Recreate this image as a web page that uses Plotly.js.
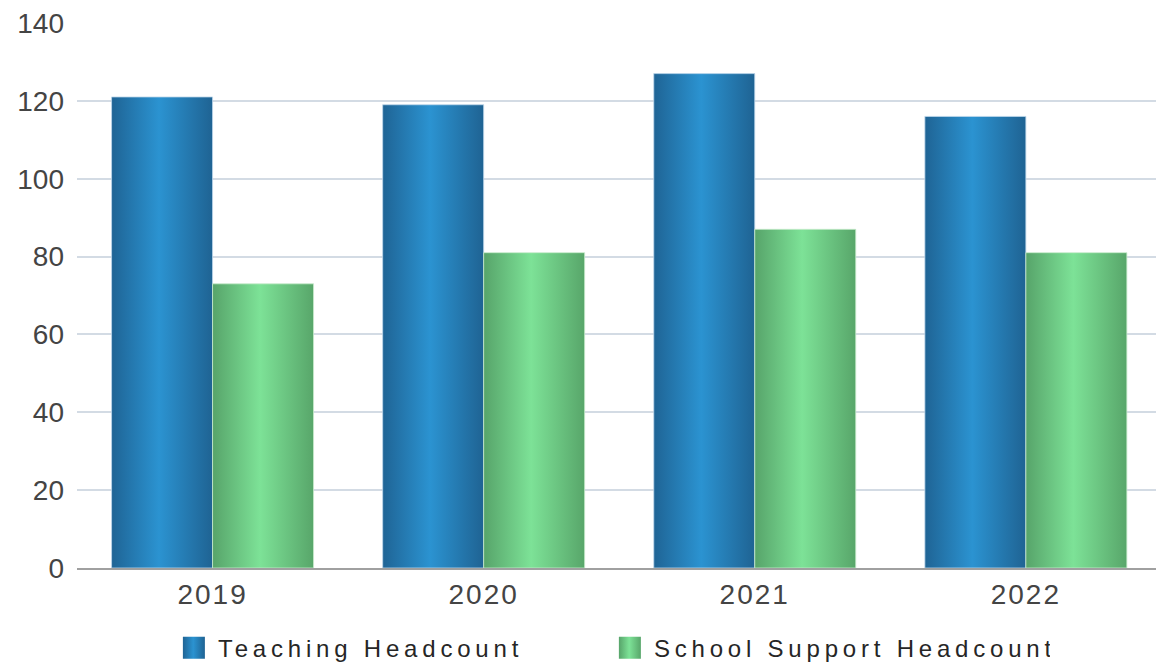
<!DOCTYPE html>
<html><head><meta charset="utf-8">
<script src="https://cdn.plot.ly/plotly-3.0.1.min.js"></script>
<style>
html,body{margin:0;padding:0;background:#fff;overflow:hidden;width:1156px;height:662px}
#chart{width:1156px;height:674px}
.legendtext{letter-spacing:4.8px}
.xtick text{letter-spacing:2px}
</style></head><body><div id="chart"></div>
<script>
const years = ['2019', '2020', '2021', '2022'];
const teaching = [121, 119, 127, 116];
const support = [73, 81, 87, 81];
const seriesNames = ['Teaching Headcount', 'School Support Headcount'];
const yTicks = [0, 20, 40, 60, 80, 100, 120, 140];

const data = [
  {type: 'bar', x: years, y: teaching, name: seriesNames[0],
   marker: {color: '#2a85c2', line: {color: 'rgba(190,215,235,0.8)', width: 1}}},
  {type: 'bar', x: years, y: support, name: seriesNames[1],
   marker: {color: '#6cc985', line: {color: 'rgba(200,235,205,0.8)', width: 1}}}
];

const layout = {
  width: 1156, height: 674,
  margin: {l: 77, r: 0, t: 23, b: 106},
  paper_bgcolor: '#fff', plot_bgcolor: '#fff',
  barmode: 'group', bargap: 0.255, bargroupgap: 0,
  showlegend: true,
  font: {family: 'Liberation Sans, Arial, sans-serif', color: '#444'},
  xaxis: {type: 'category', range: [-0.5, 3.48], showgrid: false, zeroline: false,
          showline: true, linecolor: '#a0a0a0', linewidth: 2, ticks: '',
          tickfont: {size: 28, color: '#444'}, ticklabelstandoff: 0, fixedrange: true},
  yaxis: {range: [0, 140], tickvals: yTicks, showgrid: true, gridcolor: '#d3dbe4', gridwidth: 2,
          zeroline: false, showline: false, ticks: '',
          tickfont: {size: 28, color: '#444'}, ticklabelstandoff: 12, fixedrange: true},
  legend: {orientation: 'h', x: 0.0935, xanchor: 'left', y: -0.147, yanchor: 'middle',
           font: {size: 24, color: '#262626'}, entrywidth: 391, entrywidthmode: 'pixels',
           bgcolor: 'rgba(0,0,0,0)'}
};

Plotly.newPlot('chart', data, layout, {staticPlot: true, displayModeBar: false}).then(gd => {
  const ns = 'http://www.w3.org/2000/svg';
  const svg = gd.querySelector('svg.main-svg');
  const defs = document.createElementNS(ns, 'defs');
  const grads = [
    ['gBlue', [['0%', '#1f6495'], ['47%', '#2b93d1'], ['100%', '#1f6393']]],
    ['gGreen', [['0%', '#57a46a'], ['47%', '#7de297'], ['100%', '#58a66a']]]
  ];
  grads.forEach(([id, stops]) => {
    const lg = document.createElementNS(ns, 'linearGradient');
    lg.setAttribute('id', id);
    lg.setAttribute('x1', '0'); lg.setAttribute('y1', '0');
    lg.setAttribute('x2', '1'); lg.setAttribute('y2', '0');
    stops.forEach(([off, col]) => {
      const s = document.createElementNS(ns, 'stop');
      s.setAttribute('offset', off); s.setAttribute('stop-color', col);
      lg.appendChild(s);
    });
    defs.appendChild(lg);
  });
  svg.insertBefore(defs, svg.firstChild);
  const ids = ['gBlue', 'gGreen'];
  gd.querySelectorAll('.barlayer .trace').forEach((tr, i) => {
    tr.querySelectorAll('path').forEach(p => { p.style.fill = 'url(#' + ids[i] + ')'; });
  });
  gd.querySelectorAll('.legend .traces').forEach((tr, i) => {
    const p = tr.querySelector('.legendpoints path');
    if (p) {
      p.setAttribute('d', 'M7,11H-15V-11H7Z');
      p.style.fill = 'url(#' + ids[i] + ')';
      p.style.strokeWidth = '0';
    }
  });
});
</script></body></html>
